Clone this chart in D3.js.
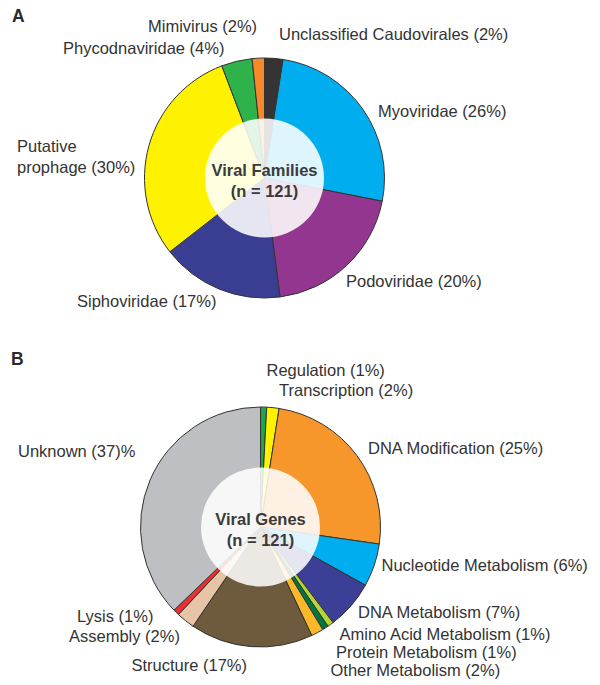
<!DOCTYPE html>
<html>
<head>
<meta charset="utf-8">
<script src="https://cdn.jsdelivr.net/npm/d3@7"></script>
<style>
  html, body { margin: 0; padding: 0; background: #fff; }
  svg { display: block; }
  text { font-family: "Liberation Sans", Arial, Helvetica, sans-serif; fill: #333; }
</style>
</head>
<body>
<svg id="chart" width="600" height="685"></svg>
<script>
// ---- Data (clockwise from 12 o'clock) ----
const familyNames = ["Unclassified Caudovirales", "Myoviridae", "Podoviridae", "Siphoviridae", "Putative prophage", "Phycodnaviridae", "Mimivirus"];
const familyCounts = [3, 31, 24, 20, 36, 5, 2];
const familyLabels = [["Unclassified Caudovirales (2%)"], ["Myoviridae (26%)"], ["Podoviridae (20%)"], ["Siphoviridae (17%)"], ["Putative", "prophage (30%)"], ["Phycodnaviridae (4%)"], ["Mimivirus (2%)"]];

const geneNames = ["Regulation", "Transcription", "DNA Modification", "Nucleotide Metabolism", "DNA Metabolism", "Amino Acid Metabolism", "Protein Metabolism", "Other Metabolism", "Structure", "Assembly", "Lysis", "Unknown"];
const geneCounts = [1, 2, 30, 7, 8, 1, 1, 2, 20, 3, 1, 45];
const geneLabels = [["Regulation (1%)"], ["Transcription (2%)"], ["DNA Modification (25%)"], ["Nucleotide Metabolism (6%)"], ["DNA Metabolism (7%)"], ["Amino Acid Metabolism (1%)"], ["Protein Metabolism (1%)"], ["Other Metabolism (2%)"], ["Structure (17%)"], ["Assembly (2%)"], ["Lysis (1%)"], ["Unknown (37)%"]];

// ---- Styles ----
const familyColors = ["#353334", "#00aeef", "#92368f", "#3a3e93", "#fff200", "#2db34a", "#f7892b"];
const geneColors = ["#1fa64a", "#fff200", "#f7962a", "#00aeef", "#3b3f95", "#b8d433", "#00753f", "#fbb829", "#6e5a3c", "#e7c4a6", "#ec2e30", "#bdbfc2"];

// ---- Layout ----
const panels = [
  {
    letter: "A", letterPos: [12, 22],
    cx: 264.5, cy: 178, r: 120, innerR: 59.5,
    names: familyNames, counts: familyCounts, labels: familyLabels, colors: familyColors,
    title: ["Viral Families", "(n = 121)"],
    labelPos: [[279, 40], [378, 116.5], [346, 286.5], [77, 306.5], [17, 152.3], [63, 54], [148, 32]]
  },
  {
    letter: "B", letterPos: [11, 365],
    cx: 260.5, cy: 527, r: 120, innerR: 59.5,
    names: geneNames, counts: geneCounts, labels: geneLabels, colors: geneColors,
    title: ["Viral Genes", "(n = 121)"],
    labelPos: [[266.5, 375.7], [279, 395.7], [368, 454], [381.5, 571], [358, 617.5], [339.5, 640], [336, 658.3], [330.5, 676], [131.5, 671], [69, 641.7], [77, 621.7], [18, 457]]
  }
];

const svg = d3.select("#chart");

panels.forEach(p => {
  const g = svg.append("g");
  const color = d3.scaleOrdinal().domain(p.names).range(p.colors);
  const data = p.names.map((n, i) => ({ name: n, count: p.counts[i], label: p.labels[i], pos: p.labelPos[i] }));
  const pie = d3.pie().sort(null).value(d => d.count).startAngle(0).endAngle(2 * Math.PI);
  const arc = d3.arc().innerRadius(0).outerRadius(p.r);

  const pg = g.append("g").attr("transform", `translate(${p.cx},${p.cy})`);
  pg.selectAll("path.slice")
    .data(pie(data))
    .join("path")
    .attr("class", "slice")
    .attr("d", arc)
    .attr("fill", d => color(d.data.name))
    .attr("stroke", "#333")
    .attr("stroke-width", 1)
    .attr("stroke-linejoin", "round");

  pg.append("circle")
    .attr("r", p.innerR)
    .attr("fill", "#ffffff")
    .attr("fill-opacity", 0.87);

  pg.selectAll("text.title")
    .data(p.title)
    .join("text")
    .attr("class", "title")
    .attr("x", 0)
    .attr("y", (d, i) => -2 + i * 21)
    .attr("text-anchor", "middle")
    .attr("font-size", "16.5px")
    .attr("font-weight", "bold")
    .style("fill", "#3a3a3a")
    .text(d => d);

  // labels
  data.forEach(d => {
    const t = g.append("text")
      .attr("x", d.pos[0])
      .attr("y", d.pos[1])
      .attr("font-size", "16.5px");
    d.label.forEach((line, i) => {
      t.append("tspan").attr("x", d.pos[0]).attr("dy", i === 0 ? 0 : 20.4).text(line);
    });
  });

  g.append("text")
    .attr("x", p.letterPos[0])
    .attr("y", p.letterPos[1])
    .attr("font-size", "17.5px")
    .attr("font-weight", "bold")
    .style("fill", "#2a2a2a")
    .text(p.letter);
});
</script>
</body>
</html>
